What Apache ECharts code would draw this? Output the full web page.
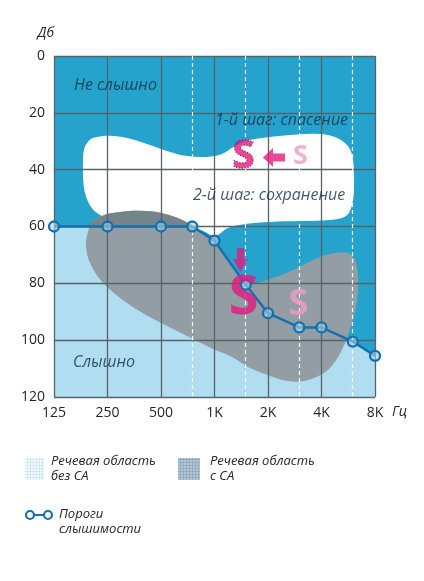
<!DOCTYPE html>
<html><head><meta charset="utf-8">
<script src="https://cdn.jsdelivr.net/npm/echarts@6/dist/echarts.min.js"></script>
<style>html,body{margin:0;padding:0;background:#fff}#c{width:424px;height:581px}</style>
</head><body><div id="c"></div>
<script>
// ---- data (frequency in Hz, level in dB) ----
const xTickLabels = ['125','250','500','1K','2K','4K','8K'];
const thresholdFreq = [125,250,500,750,1000,1500,2000,3000,4000,6000,8000];
const thresholdDb   = [60,60,60,60,65,80.5,90.5,95.5,95.5,100.5,105.5];
const halfOctaveFreq = [750,1500,3000,6000];

// speech area after step 1 (white)
const speechAreaRescued = [
  [192,30.6],[207,28.9],[258,28.1],[322,28.9],[417,31],[540,33.4],[700,35.2],[907,35.5],
  [1102,34.5],[1304,31.7],[1584,29.6],[2399,28.1],[3678,27.4],[4763,28.5],[5637,31.7],
  [6016,36.6],[6093,46.1],[5938,52.4],[5495,56.3],[4468,57.7],[3028,58.1],[2052,58.4],
  [1485,59.1],[1191,60.5],[1006,63.3],[860,61.5],[728,59.8],[400,59],[260,57.5],[215,55],
  [195,51.5],[184,46],[182,36.6],[185,32.5]
];
// original speech area (grey)
const speechAreaOriginal = [
  [189,66.5],[194,61.9],[207,58.1],[242,55.9],[294,54.9],[381,54.5],[494,55.2],[640,57.4],
  [757,60.2],[862,62.3],[981,65.1],[1102,69],[1271,73.9],[1447,78.1],[1647,79.9],[2133,78.1],
  [2765,75.3],[3582,71.8],[4466,69.7],[5637,69.3],[6173,71.8],[6418,77.8],[6337,85.9],
  [5938,94],[5216,103.4],[4350,110.5],[3359,114],[2592,114.4],[1924,111.9],[1543,109.4],
  [1255,105.9],[1006,103.4],[700,98.5],[451,92.5],[322,86.9],[236,79.9],[199,72.8]
];
// part of the grey area above the threshold line (darker)
const speechAreaOriginalAbove = [
  [191,60],[196,59],[207,58.1],[242,55.9],[294,54.9],[381,54.5],[494,55.2],[640,57.4],
  [757,60],[600,60],[400,60],[250,60]
];

const noteTexts = ['Не слышно','1-й шаг: спасение','2-й шаг: сохранение','Слышно'];
const notePos   = [[162,10.2],[1006,22.5],[757,48.9],[160,107.7]];

const letterTexts = ['S','S','S','S'];
const letterPos   = [[1456,35.3],[3046,35.3],[1456,85.3],[2969,87.4]];

const arrowPos = [[2161,35.7],[1400,71.8]];

const legendTexts = ['Речевая область\nбез СА','Речевая область\nс СА','Пороги\nслышимости'];

// ---- helpers ----
const oct = f => Math.log2(f / 125);
const FONT = '"Open Sans","Noto Sans",sans-serif';
const C_TXT = '#262626';
const C_NAVY = '#142d46';
const C_LINE = '#1670b0';
const C_MAG = '#e4197e';
const C_PINK = '#f39cc3';

function polySeries(outline, fill, z) {
  return {
    type: 'custom', z: z, silent: true, clip: true, animation: false,
    coordinateSystem: 'cartesian2d',
    data: [[oct(outline[0][0]), outline[0][1]]],
    renderItem: (params, api) => ({
      type: 'polygon',
      shape: { points: outline.map(p => api.coord([oct(p[0]), p[1]])), smooth: 0.35 },
      style: { fill: fill }
    })
  };
}
function makePattern(bg, dot) {
  const c = document.createElement('canvas'); c.width = 3; c.height = 3;
  const g = c.getContext('2d');
  g.fillStyle = bg; g.fillRect(0, 0, 3, 3);
  g.fillStyle = dot; g.fillRect(0, 0, 3, 1); g.fillRect(0, 0, 1, 3);
  return { image: c, repeat: 'repeat' };
}

const thresholdData = thresholdFreq.map((f, i) => [oct(f), thresholdDb[i]]);

const letterStyles = [
  { fontSize: 40, color: C_MAG, textBorderColor: '#5a0c36', textBorderWidth: 1.4, textBorderType: 'dotted' },
  { fontSize: 27, color: C_PINK },
  { fontSize: 54, color: C_MAG },
  { fontSize: 36, color: C_PINK }
];
const arrowShapes = [
  { symbol: 'path://M0,9.5 L10,0 L10,5.5 L22,5.5 L22,13.5 L10,13.5 L10,19 Z', size: [22, 19] },
  { symbol: 'path://M4,0 L11,0 L11,11 L15,11 L7.5,24 L0,11 L4,11 Z', size: [15, 24] }
];

const series = [
  { // light area below the threshold
    type: 'line', z: 1, silent: true, animation: false, symbol: 'none',
    data: thresholdData, lineStyle: { width: 0 },
    areaStyle: { color: '#b0ddf0', opacity: 1, origin: 'end' }
  },
  polySeries(speechAreaRescued, '#ffffff', 2),
  polySeries(speechAreaOriginal, '#929ea4', 3),
  polySeries(speechAreaOriginalAbove, '#74848b', 3),
  { // half-octave dashed lines
    type: 'line', z: 6, data: [], silent: true, animation: false,
    markLine: {
      symbol: 'none', silent: true, animation: false, label: { show: false },
      lineStyle: { color: '#ffffff', type: [4, 3], width: 1.2, opacity: 0.95 },
      data: halfOctaveFreq.map(f => ({ xAxis: oct(f) }))
    }
  },
  { // threshold line
    type: 'line', z: 8, silent: true, animation: false,
    data: thresholdData, symbol: 'circle', symbolSize: 10,
    lineStyle: { color: C_LINE, width: 2.5 },
    itemStyle: { color: 'rgba(170,210,228,0.6)', borderColor: C_LINE, borderWidth: 2.3 }
  },
  { // region notes
    type: 'scatter', z: 9, silent: true, animation: false, symbolSize: 0,
    data: noteTexts.map((t, i) => ({ name: t, value: [oct(notePos[i][0]), notePos[i][1]] })),
    label: { show: true, formatter: '{b}', position: 'right', distance: 0,
      fontFamily: FONT, fontStyle: 'italic', fontSize: 16, color: C_NAVY }
  }
];
letterTexts.forEach((t, i) => {
  series.push({
    type: 'scatter', z: 10, silent: true, animation: false, symbolSize: 0,
    data: [{ name: t, value: [oct(letterPos[i][0]), letterPos[i][1]] }],
    label: Object.assign({ show: true, formatter: '{b}', position: 'inside',
      fontFamily: FONT, fontWeight: 'bold' }, letterStyles[i])
  });
});
arrowPos.forEach((p, i) => {
  series.push({
    type: 'scatter', z: 10, silent: true, animation: false,
    symbol: arrowShapes[i].symbol, symbolSize: arrowShapes[i].size,
    itemStyle: { color: C_MAG },
    data: [[oct(p[0]), p[1]]]
  });
});

const legendFont = 'italic 13px "Open Sans","Noto Sans",sans-serif';
const option = {
  animation: false,
  grid: { left: 54, right: 49, top: 56, bottom: 184, show: true, backgroundColor: '#25a3cd', borderWidth: 0 },
  xAxis: {
    type: 'value', min: 0, max: 6, interval: 1, z: 5,
    axisLine: { show: false, onZero: false }, axisTick: { show: false },
    splitLine: { show: true, lineStyle: { color: '#56636a', width: 1.3 } },
    axisLabel: { formatter: v => xTickLabels[Math.round(v)], margin: 9, color: C_TXT, fontSize: 14, fontFamily: FONT },
    name: 'Гц', nameLocation: 'end', nameGap: 17,
    nameTextStyle: { fontStyle: 'italic', fontSize: 14, color: C_TXT, verticalAlign: 'top', padding: [8, 0, 0, 0], fontFamily: FONT }
  },
  yAxis: {
    type: 'value', inverse: true, min: 0, max: 120, interval: 20, z: 5,
    axisLine: { show: false }, axisTick: { show: false },
    splitLine: { show: true, lineStyle: { color: '#56636a', width: 1.3 } },
    axisLabel: { margin: 9, color: C_TXT, fontSize: 14, fontFamily: FONT },
    name: 'Дб', nameLocation: 'start', nameGap: 16,
    nameTextStyle: { fontStyle: 'italic', fontSize: 14, color: C_TXT, align: 'right', fontFamily: FONT }
  },
  series: series,
  graphic: [
    { type: 'rect', shape: { x: 25, y: 458, width: 19, height: 22 }, style: { fill: makePattern('#f6fafc', '#d3e8f2') } },
    { type: 'text', x: 51, y: 454, style: { text: legendTexts[0], font: legendFont, fill: C_TXT, lineHeight: 15 } },
    { type: 'rect', shape: { x: 178, y: 458, width: 22, height: 22 }, style: { fill: makePattern('#b3c7d4', '#94aec0') } },
    { type: 'text', x: 210, y: 454, style: { text: legendTexts[1], font: legendFont, fill: C_TXT, lineHeight: 15 } },
    { type: 'line', shape: { x1: 30, y1: 515, x2: 48, y2: 515 }, style: { stroke: C_LINE, lineWidth: 2 } },
    { type: 'circle', shape: { cx: 30, cy: 515, r: 4 }, style: { fill: '#fff', stroke: C_LINE, lineWidth: 2.2 } },
    { type: 'circle', shape: { cx: 48, cy: 515, r: 4 }, style: { fill: '#fff', stroke: C_LINE, lineWidth: 2.2 } },
    { type: 'text', x: 59, y: 507, style: { text: legendTexts[2], font: legendFont, fill: C_TXT, lineHeight: 15 } }
  ]
};
const chart = echarts.init(document.getElementById('c'));
chart.setOption(option);
</script>
</body></html>
